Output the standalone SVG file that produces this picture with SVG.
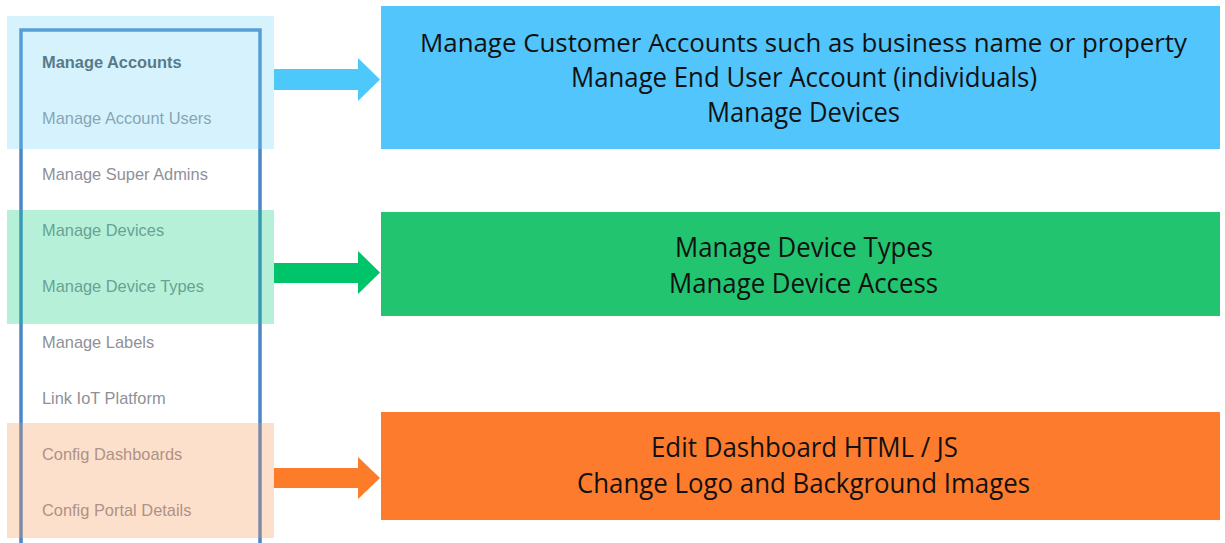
<svg xmlns="http://www.w3.org/2000/svg" width="1225" height="543" viewBox="0 0 1225 543">
  <style>
    .menu { font-family: "Liberation Sans", Arial, sans-serif; font-size: 16.4px; fill: #8e9099; }
    .menu.active { font-weight: bold; fill: #4a5258; }
    .desc { font-family: "Open Sans", "Noto Sans", sans-serif; font-size: 28px; fill: #111111; text-anchor: middle; }
    .desc.long { font-size: 26px; }
    .frame { fill: none; stroke: #4a86c8; stroke-width: 3.5; }
  </style>
  <rect width="1225" height="543" fill="#ffffff"/>

  <!-- Sidebar menu -->
  <g id="sidebar">
    <rect class="frame" x="21" y="30" width="239" height="530"/>
    <text class="menu active" x="42" y="68">Manage Accounts</text>
    <text class="menu" x="42" y="124">Manage Account Users</text>
    <text class="menu" x="42" y="180">Manage Super Admins</text>
    <text class="menu" x="42" y="236">Manage Devices</text>
    <text class="menu" x="42" y="292">Manage Device Types</text>
    <text class="menu" x="42" y="348">Manage Labels</text>
    <text class="menu" x="42" y="404">Link IoT Platform</text>
    <text class="menu" x="42" y="460">Config Dashboards</text>
    <text class="menu" x="42" y="516">Config Portal Details</text>
  </g>

  <!-- Menu group highlights -->
  <g id="highlight-accounts"><rect x="7" y="16" width="267" height="133" fill="#76d7f8" fill-opacity="0.3"/></g>
  <g id="highlight-devices"><rect x="7" y="210" width="267" height="114" fill="#12cd80" fill-opacity="0.3"/></g>
  <g id="highlight-config"><rect x="7" y="423" width="267" height="115" fill="#f89855" fill-opacity="0.3"/></g>

  <!-- Arrows -->
  <g id="connectors">
    <polygon points="274,69 358,69 358,58 380,79.5 358,101 358,90 274,90" fill="#4cc8fb"/>
    <polygon points="274,263 358,263 358,251 380,272.5 358,294 358,283 274,283" fill="#00c46a"/>
    <polygon points="274,468 358,468 358,457 380,478 358,499 358,488 274,488" fill="#fd7c2a"/>
  </g>

  <!-- Description panels -->
  <g id="panel-accounts">
    <rect x="381" y="6" width="839" height="143" fill="#52c5fd"/>
    <text class="desc long" x="803.5" y="52" textLength="767" lengthAdjust="spacingAndGlyphs">Manage Customer Accounts such as business name or property</text>
    <text class="desc" x="804" y="87" textLength="466" lengthAdjust="spacingAndGlyphs">Manage End User Account (individuals)</text>
    <text class="desc" x="803.5" y="122" textLength="193" lengthAdjust="spacingAndGlyphs">Manage Devices</text>
  </g>
  <g id="panel-devices">
    <rect x="381" y="212" width="839" height="104" fill="#22c46f"/>
    <text class="desc" x="804" y="257" textLength="258" lengthAdjust="spacingAndGlyphs">Manage Device Types</text>
    <text class="desc" x="803.5" y="293" textLength="269" lengthAdjust="spacingAndGlyphs">Manage Device Access</text>
  </g>
  <g id="panel-config">
    <rect x="381" y="412" width="839" height="108" fill="#fd7b2c"/>
    <text class="desc" x="804.5" y="457" textLength="307" lengthAdjust="spacingAndGlyphs">Edit Dashboard HTML / JS</text>
    <text class="desc" x="803.5" y="493" textLength="453" lengthAdjust="spacingAndGlyphs">Change Logo and Background Images</text>
  </g>
</svg>
